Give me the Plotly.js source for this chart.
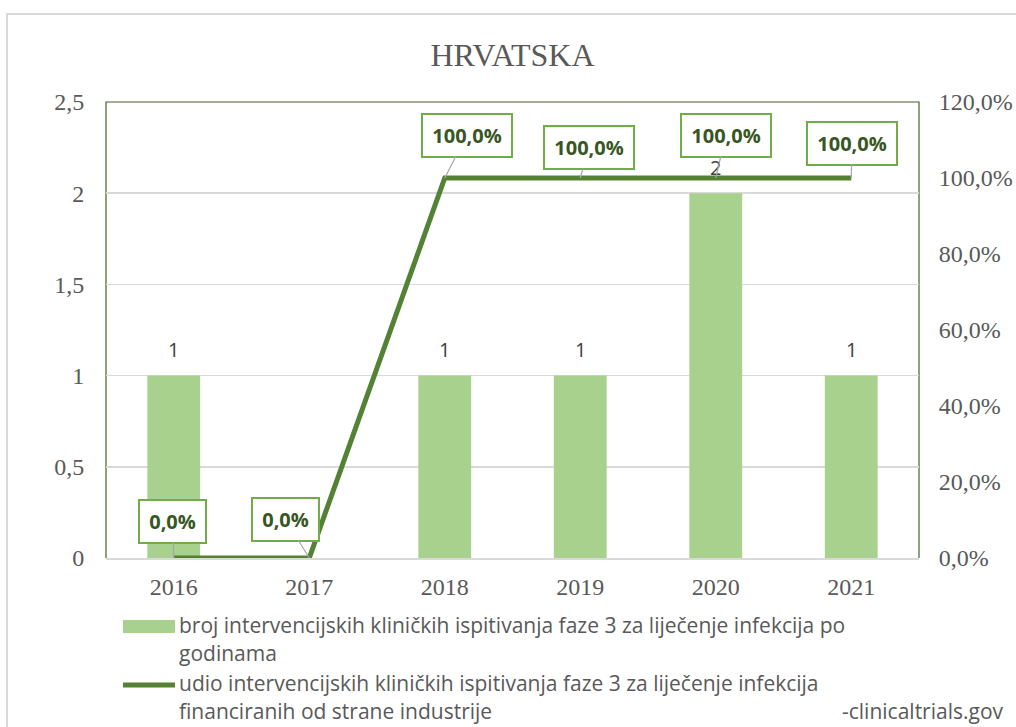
<!DOCTYPE html>
<html>
<head>
<meta charset="utf-8">
<script src="https://cdn.plot.ly/plotly-3.0.1.min.js"></script>
<style>
  html, body { margin: 0; padding: 0; width: 1016px; height: 727px; overflow: hidden; background: #fff; }
  #chart { position: absolute; left: 0; top: 0; width: 1016px; height: 727px; }
  #frame { position: absolute; left: 6px; top: 13px; width: 1100px; height: 800px;
           border: 2px solid #d9d9d9; pointer-events: none; box-sizing: border-box; }
</style>
</head>
<body>
<div id="chart"></div>
<div id="frame"></div>
<script>
// ---- data ----
const years = ['2016', '2017', '2018', '2019', '2020', '2021'];
const trialCounts = [1, 0, 1, 1, 2, 1];
const industryShare = [0, 0, 1, 1, 1, 1]; // fraction (1 = 100%)
const barName = 'broj intervencijskih kliničkih ispitivanja faze 3 za liječenje infekcija po godinama';
const lineName = 'udio intervencijskih kliničkih ispitivanja faze 3 za liječenje infekcija financiranih od strane industrije';
const legendLines1 = ['broj intervencijskih kliničkih ispitivanja faze 3 za liječenje infekcija po', 'godinama'];
const legendLines2 = ['udio intervencijskih kliničkih ispitivanja faze 3 za liječenje infekcija', 'financiranih od strane industrije'];
const chartTitle = 'HRVATSKA';
const sourceNote = '-clinicaltrials.gov';

// category positions on the x axis
const xPos = years.map((_, i) => i);

// ---- layout geometry (pixels) ----
const W = 1016, H = 727;
const M = { l: 106, r: 97, t: 102, b: 169, pad: 0 };
const PW = W - M.l - M.r, PH = H - M.t - M.b;
const toPx = x => (x - M.l) / PW;
const toPy = y => (H - M.b - y) / PH;

// label offsets for percentage callouts (pixels)
const labelOffsets = [[-1, -37], [-24, -39], [22, -43], [9, -31], [10, -43], [1, -35]];

const green = '#548235', lightGreen = '#a9d18e', boxGreen = '#70ad47', darkText = '#375623';
const grey = '#595959';
const serif = '"Liberation Serif", "Times New Roman", serif';
const sans = '"Open Sans", "Noto Sans", sans-serif';

const fmtPct = v => (v * 100).toFixed(1).replace('.', ',') + '%';

const barTrace = {
  type: 'bar', x: xPos, y: trialCounts, name: barName, width: 0.39,
  marker: { color: lightGreen, line: { width: 0 } }, yaxis: 'y'
};
const lineTrace = {
  type: 'scatter', mode: 'lines', x: xPos, y: industryShare, name: lineName,
  line: { color: green, width: 5 }, yaxis: 'y2', cliponaxis: false
};

const annotations = [];
// bar value labels
xPos.forEach((xv, i) => {
  if (trialCounts[i] > 0) {
    annotations.push({
      xref: 'x', yref: 'y', x: xv, y: trialCounts[i], yshift: 26, showarrow: false,
      text: String(trialCounts[i]), font: { family: sans, size: 20, color: '#404040' }
    });
  }
});
// percentage callouts
xPos.forEach((xv, i) => {
  const t = fmtPct(industryShare[i]);
  annotations.push({
    xref: 'x', yref: 'y2', x: xv, y: industryShare[i],
    text: '<b>' + t + '</b>', showarrow: true, arrowhead: 0, arrowwidth: 1.2, arrowcolor: '#a6a6a6',
    ax: labelOffsets[i][0], ay: labelOffsets[i][1], standoff: 0,
    bgcolor: '#ffffff', bordercolor: boxGreen, borderwidth: 2, borderpad: 7,
    width: 5 + 11.5 * t.length,
    font: { family: sans, size: 20, color: darkText }
  });
});
// legend text
const legendText = (txt, x, y) => ({
  xref: 'paper', yref: 'paper', x: toPx(x), y: toPy(y), xanchor: 'left', yanchor: 'middle',
  showarrow: false, text: txt, font: { family: sans, size: 21, color: grey }
});
annotations.push(legendText(legendLines1[0], 177, 625));
annotations.push(legendText(legendLines1[1], 177, 653));
annotations.push(legendText(legendLines2[0], 177, 683));
annotations.push(legendText(legendLines2[1], 177, 711));
annotations.push({
  xref: 'paper', yref: 'paper', x: toPx(1006), y: toPy(711), xanchor: 'right', yanchor: 'middle',
  showarrow: false, text: sourceNote, font: { family: sans, size: 21, color: grey }
});

const shapes = [
  // plot area border (left, top, right)
  { type: 'path', xref: 'paper', yref: 'paper', path: 'M0,0 L0,1 L1,1 L1,0',
    line: { color: '#44632a', width: 1.2 }, layer: 'below' },
  // legend swatches
  { type: 'rect', xref: 'paper', yref: 'paper', x0: toPx(123), x1: toPx(175), y0: toPy(620), y1: toPy(633),
    fillcolor: lightGreen, line: { width: 0 } },
  { type: 'line', xref: 'paper', yref: 'paper', x0: toPx(123), x1: toPx(175), y0: toPy(685), y1: toPy(685),
    line: { color: green, width: 5 } }
];

const tickFont = { family: serif, size: 24, color: grey };

const layout = {
  width: W, height: H, margin: M,
  paper_bgcolor: '#ffffff', plot_bgcolor: '#ffffff',
  separators: ', ',
  showlegend: false,
  title: { text: chartTitle, x: 0.5, xref: 'paper', xanchor: 'center', y: 1 - 55 / H, yanchor: 'middle',
           font: { family: serif, size: 32, color: grey } },
  xaxis: {
    type: 'linear', range: [-0.5, years.length - 0.5],
    tickmode: 'array', tickvals: xPos, ticktext: years,
    showgrid: false, zeroline: false,
    showline: true, linecolor: '#d9d9d9', linewidth: 1.5,
    ticks: 'outside', ticklen: 7, tickcolor: 'rgba(0,0,0,0)',
    tickfont: tickFont
  },
  yaxis: {
    range: [0, 2.5], dtick: 0.5, tick0: 0, showgrid: true, gridcolor: '#d9d9d9', gridwidth: 1.5,
    zeroline: false, showline: false,
    ticks: 'outside', ticklen: 16, tickcolor: 'rgba(0,0,0,0)',
    tickfont: tickFont
  },
  yaxis2: {
    overlaying: 'y', side: 'right', range: [0, 1.2], dtick: 0.2, tick0: 0,
    tickformat: '.1%', showgrid: false, zeroline: false, showline: false,
    ticks: 'outside', ticklen: 14, tickcolor: 'rgba(0,0,0,0)',
    tickfont: tickFont
  },
  annotations: annotations,
  shapes: shapes
};

Plotly.newPlot('chart', [barTrace, lineTrace], layout, { displayModeBar: false, staticPlot: true });
</script>
</body>
</html>
